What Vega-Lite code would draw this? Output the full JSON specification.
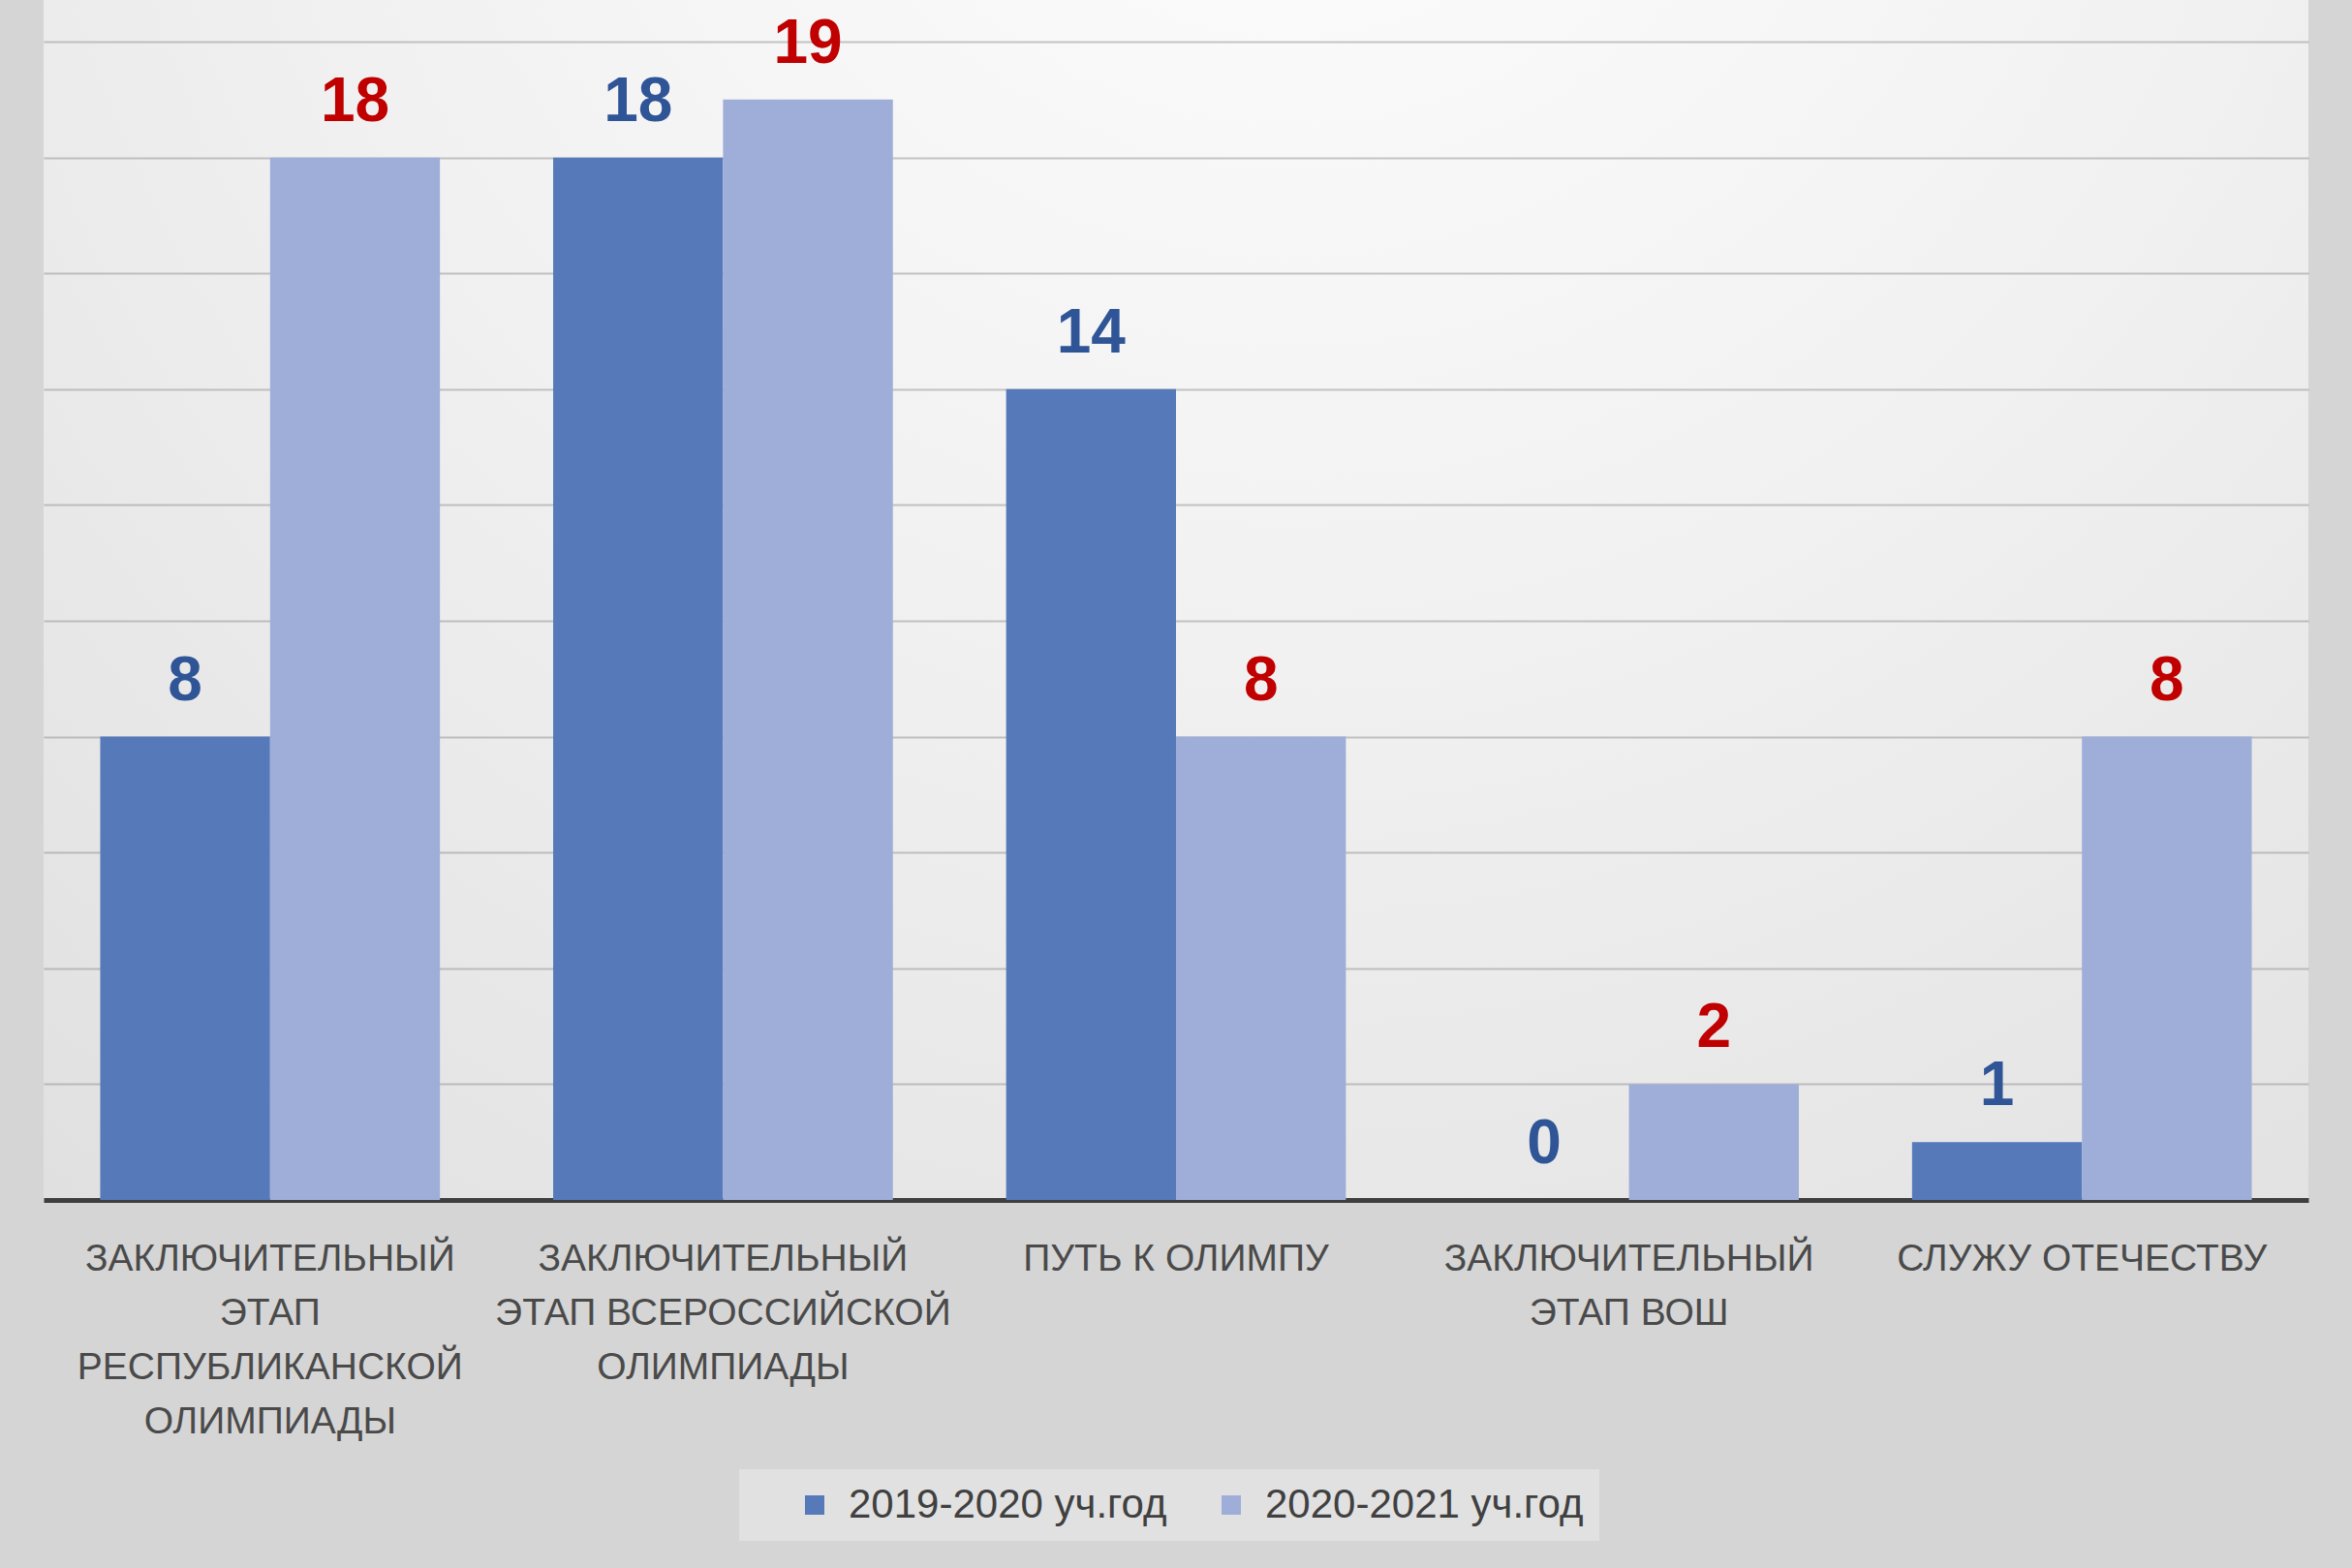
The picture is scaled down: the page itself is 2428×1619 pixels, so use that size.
{
  "$schema": "https://vega.github.io/schema/vega-lite/v6.json",
  "autosize": {"type": "none"},
  "width": 2338,
  "height": 1239,
  "padding": {"left": 45, "right": 45, "top": 0, "bottom": 380},
  "background": "#d5d5d5",
  "config": {
    "view": {
      "stroke": null,
      "fill": {
        "gradient": "radial",
        "x1": 0.55, "y1": 0.08, "r1": 0,
        "x2": 0.55, "y2": 0.08, "r2": 1.1,
        "stops": [
          {"offset": 0, "color": "#ffffff"},
          {"offset": 0.4, "color": "#f1f1f1"},
          {"offset": 0.8, "color": "#e0e0e0"},
          {"offset": 1, "color": "#d3d3d3"}
        ]
      }
    },
    "font": "Liberation Sans"
  },
  "data": {
    "values": [
      {"category": "ЗАКЛЮЧИТЕЛЬНЫЙ\nЭТАП\nРЕСПУБЛИКАНСКОЙ\nОЛИМПИАДЫ", "year": "2019-2020 уч.год", "value": 8},
      {"category": "ЗАКЛЮЧИТЕЛЬНЫЙ\nЭТАП\nРЕСПУБЛИКАНСКОЙ\nОЛИМПИАДЫ", "year": "2020-2021 уч.год", "value": 18},
      {"category": "ЗАКЛЮЧИТЕЛЬНЫЙ\nЭТАП ВСЕРОССИЙСКОЙ\nОЛИМПИАДЫ", "year": "2019-2020 уч.год", "value": 18},
      {"category": "ЗАКЛЮЧИТЕЛЬНЫЙ\nЭТАП ВСЕРОССИЙСКОЙ\nОЛИМПИАДЫ", "year": "2020-2021 уч.год", "value": 19},
      {"category": "ПУТЬ К ОЛИМПУ", "year": "2019-2020 уч.год", "value": 14},
      {"category": "ПУТЬ К ОЛИМПУ", "year": "2020-2021 уч.год", "value": 8},
      {"category": "ЗАКЛЮЧИТЕЛЬНЫЙ\nЭТАП ВОШ", "year": "2019-2020 уч.год", "value": 0},
      {"category": "ЗАКЛЮЧИТЕЛЬНЫЙ\nЭТАП ВОШ", "year": "2020-2021 уч.год", "value": 2},
      {"category": "СЛУЖУ ОТЕЧЕСТВУ", "year": "2019-2020 уч.год", "value": 1},
      {"category": "СЛУЖУ ОТЕЧЕСТВУ", "year": "2020-2021 уч.год", "value": 8}
    ]
  },
  "encoding": {
    "x": {
      "field": "category",
      "type": "nominal",
      "sort": null,
      "scale": {"paddingInner": 0.25, "paddingOuter": 0.125},
      "axis": {
        "title": null,
        "labelAngle": 0,
        "ticks": false,
        "domain": true,
        "domainColor": "#3f3f3f",
        "domainWidth": 5,
        "labelExpr": "split(datum.label, '\\n')",
        "labelFont": "Liberation Sans",
        "labelFontSize": 39,
        "labelLineHeight": 56,
        "labelColor": "#4a4a4a",
        "labelPadding": 41,
        "labelLimit": 800,
        "labelBaseline": "top"
      }
    },
    "xOffset": {"field": "year", "type": "nominal", "scale": {"paddingInner": 0, "paddingOuter": 0}},
    "y": {
      "field": "value",
      "type": "quantitative",
      "scale": {"domain": [0, 20.72], "nice": false},
      "axis": {
        "title": null,
        "labels": false,
        "ticks": false,
        "domain": false,
        "grid": true,
        "gridColor": "#8f8f8f",
        "gridOpacity": 0.5,
        "gridWidth": 2,
        "values": [2, 4, 6, 8, 10, 12, 14, 16, 18, 20]
      }
    }
  },
  "layer": [
    {
      "mark": {"type": "bar"},
      "encoding": {
        "color": {
          "field": "year",
          "type": "nominal",
          "scale": {"range": ["#5679ba", "#9eaed9"]},
          "legend": {
            "title": null,
            "orient": "none",
            "direction": "horizontal",
            "legendX": 718,
            "legendY": 1517,
            "fillColor": "#e1e1e1",
            "padding": 16,
            "symbolOffset": 41,
            "symbolType": "square",
            "symbolSize": 400,
            "symbolStrokeWidth": 0,
            "labelFont": "Liberation Sans",
            "labelFontSize": 42,
            "labelColor": "#404040",
            "labelOffset": 14,
            "columnPadding": 4,
            "labelLimit": 600
          }
        }
      }
    },
    {
      "mark": {"type": "text", "baseline": "middle", "align": "center", "dy": -57, "fontSize": 64, "fontWeight": "bold", "font": "Liberation Sans"},
      "encoding": {
        "text": {"field": "value", "type": "quantitative"},
        "color": {
          "condition": {"test": "datum.year == '2019-2020 уч.год'", "value": "#2f5597"},
          "value": "#c00000"
        }
      }
    }
  ]
}
